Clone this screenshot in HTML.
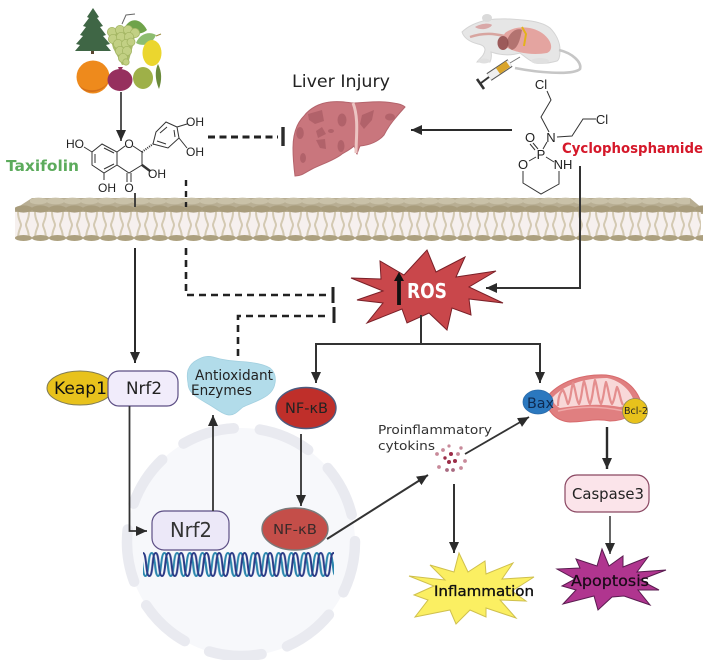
<!DOCTYPE html>
<html><head><meta charset="utf-8"><style>
html,body{margin:0;padding:0;background:#fff;width:708px;height:660px;overflow:hidden}
svg{display:block;filter:blur(.35px)}
text{font-family:"DejaVu Sans","Liberation Sans",sans-serif}
.m text,text.m{font-family:"Liberation Sans",sans-serif;font-size:12px;fill:#222;text-anchor:middle}
</style></head><body>
<svg width="708" height="660" viewBox="0 0 708 660" xmlns="http://www.w3.org/2000/svg">
<defs>
<marker id="a" markerUnits="userSpaceOnUse" markerWidth="14" markerHeight="12" refX="11" refY="6" orient="auto"><path d="M0,1 L11,6 L0,11 Z" fill="#2b2b2b"/></marker>
<pattern id="lip" patternUnits="userSpaceOnUse" x="15" y="212" width="17" height="27">
<rect width="17" height="27" fill="#f6f0ee"/>
<path d="M3,0 C3,8 6,10 6,13 C6,16 3,18 3,27 M14,0 C14,8 11,10 11,13 C11,16 14,18 14,27" fill="none" stroke="#d3c9b2" stroke-width="2"/>
</pattern>
<pattern id="headsB" patternUnits="userSpaceOnUse" x="15" y="234" width="17" height="8"><ellipse cx="8.5" cy="4" rx="8.6" ry="3" fill="#aca07f"/></pattern>
<pattern id="headsT" patternUnits="userSpaceOnUse" x="15" y="205" width="17" height="8"><ellipse cx="8.5" cy="4" rx="9" ry="3.6" fill="#a89c7c"/></pattern>
<pattern id="headsF" patternUnits="userSpaceOnUse" x="30" y="197" width="17" height="8"><ellipse cx="8.5" cy="4" rx="9" ry="3.4" fill="#c9c1a8"/></pattern>
<pattern id="dna" patternUnits="userSpaceOnUse" x="143" y="550" width="12.7" height="29">
<path d="M-4,3 C0,3 -1,26 2.4,26 C6,26 4.8,3 8.7,3 C12.6,3 11.4,26 15,26" fill="none" stroke="#2a86ad" stroke-width="2"/>
<path d="M0,3 C4,3 2.3,26 6.35,26 C10.4,26 8.7,3 12.7,3" fill="none" stroke="#2b3a86" stroke-width="2"/>
</pattern>
</defs>

<!-- nucleus -->
<circle cx="241" cy="542" r="114" fill="#f7f8fb"/>
<circle cx="241" cy="542" r="114" fill="none" stroke="#e9eaf0" stroke-width="10.5" stroke-linecap="round" stroke-dasharray="53 26.6" transform="rotate(-80.5 241 542)"/>

<!-- plant sources -->
<g>
<rect x="91" y="46" width="3" height="8" fill="#5a4630"/>
<path d="M93,8 L99,17 L97,18 L103,26 L100,27 L106,35 L103,36 L110,44 L106,45 L111,51 L75,51 L80,45 L76,44 L83,36 L80,35 L86,27 L83,26 L89,18 L87,17 Z" fill="#3f6645"/>
<path d="M122,24 L126,15 L135,14" fill="none" stroke="#666" stroke-width="1"/>
<path d="M125,27 C130,18 140,17 147,30 C140,36 130,34 125,27 Z" fill="#6fa34a"/>
<path d="M108,30 L136,28 L134,42 L128,64 L122,65 L113,48 Z" fill="#a9bb68"/>
<g fill="#c2d084" stroke="#a3b563" stroke-width=".8">
<circle cx="112" cy="32" r="4.6"/><circle cx="120" cy="30" r="4.6"/><circle cx="128" cy="30" r="4.6"/><circle cx="135" cy="33" r="4.6"/>
<circle cx="113" cy="39" r="4.6"/><circle cx="121" cy="37" r="4.6"/><circle cx="129" cy="37" r="4.6"/><circle cx="118" cy="44" r="4.6"/>
<circle cx="126" cy="44" r="4.6"/><circle cx="131" cy="42" r="4"/><circle cx="120" cy="51" r="4.6"/><circle cx="127" cy="51" r="4.6"/><circle cx="123" cy="58" r="4.6"/><circle cx="126" cy="62" r="3.2"/>
</g>
<path d="M136,43 C140,33 150,31 156,35 C152,45 143,47 136,43 Z" fill="#8dbd70"/>
<path d="M156,36 L161,34" stroke="#9a8a3a" stroke-width="1"/>
<ellipse cx="152" cy="53" rx="9.5" ry="13" fill="#ebd62e"/>
<circle cx="93" cy="77" r="16.5" fill="#ee8a1c"/>
<path d="M79,85 C85,92 101,93 108,82 C105,92 85,97 79,85Z" fill="#d4701a"/>
<path d="M158,64 C154,72 156,82 159,89 C162,80 162,72 158,64 Z" fill="#6a8a3a"/>
<ellipse cx="120" cy="80" rx="12.5" ry="11" fill="#96305e"/>
<path d="M118,67 L120,72 L123,67 Z" fill="#96305e"/>
<ellipse cx="143" cy="78" rx="10" ry="11" fill="#9eb048"/>
</g>
<line x1="121" y1="92" x2="121" y2="141" stroke="#2b2b2b" stroke-width="1.6" marker-end="url(#a)"/>

<!-- taxifolin -->
<g fill="none" stroke="#333" stroke-width="1">
<path d="M102,144 L117,152 L117,165 L104,173 L92,165 L92,152 Z M95,154 L95,163 M104,169 L114,164 M104,148 L114,153"/>
<path d="M117,152 L125,146 M133,146 L142,152 L142,165 L129,173 L117,165"/>
<path d="M127,173 L127,182 M131,173 L131,182 M104,173 L104,180 M92,152 L84,147"/>
<path d="M153,144 L156,132 L166,122 L177,127 L179,138 L168,148 Z M160,133 L167,127 M174,130 L175,137 M166,144 L157,141"/>
<path d="M177,127 L187,124 M179,138 L187,148"/>
<path d="M142,165 L150,171" stroke-width="2.4"/>
<path d="M142,152 L153,144" stroke-dasharray="1 1.2" stroke-width="2"/>
</g>
<text class="m" x="75" y="148">HO</text><text class="m" x="129" y="148">O</text>
<text class="m" x="195" y="126">OH</text><text class="m" x="195" y="156">OH</text>
<text class="m" x="157" y="178">OH</text><text class="m" x="107" y="192">OH</text><text class="m" x="129" y="192">O</text>
<text x="6" y="171" font-size="15.5" font-weight="700" fill="#5cab5c" textLength="73" lengthAdjust="spacingAndGlyphs">Taxifolin</text>

<!-- top dashed inhibition -->
<line x1="208" y1="137" x2="278" y2="137" stroke="#222" stroke-width="3" stroke-dasharray="7 4.5"/>
<line x1="283" y1="127" x2="283" y2="146" stroke="#2b2b2b" stroke-width="3.4"/>

<text x="292" y="87" font-size="16.5" fill="#222" textLength="98" lengthAdjust="spacingAndGlyphs">Liver Injury</text>

<!-- liver -->
<path d="M330,102 C320,103 310,108 304,116 C296,124 293,135 293,148 C293,158 294,168 295,176 C302,176 306,172 312,169 C322,164 335,160 342,154 C347,151 351,149 354,146 C356,150 356,153 357,154 C358,151 359,148 360,146 C370,145 378,142 384,135 C389,125 396,117 405,107 C402,104 395,103 385,102 C375,101 362,103 352,103 C345,102 338,101 330,102 Z" fill="#c9767d" stroke="#b4646c" stroke-width="1"/>
<path d="M353,103 C359,118 356,138 356,153" stroke="#ecc4c2" stroke-width="3" fill="none"/>
<g fill="#a85a63" opacity=".7">
<path d="M308,114 L322,110 L324,121 L315,124 L309,120 Z"/><path d="M316,131 L322,127 L326,134 L318,138 Z"/><path d="M316,140 L325,139 L326,149 L320,148 Z"/><ellipse cx="300" cy="133" rx="3.8" ry="6"/><ellipse cx="342" cy="120" rx="4.5" ry="6.5"/><ellipse cx="341" cy="146" rx="3.5" ry="6"/><ellipse cx="303" cy="158" rx="3" ry="5"/><path d="M362,115 L374,110 L372,120 L364,129 L360,124 Z"/><ellipse cx="390" cy="117" rx="5" ry="3.5"/><ellipse cx="331" cy="131" rx="3" ry="2"/>
</g>
<line x1="512" y1="130" x2="411" y2="130" stroke="#2b2b2b" stroke-width="2" marker-end="url(#a)"/>

<!-- mouse -->
<g>
<path d="M462,32 C468,26 478,22 487,20 C500,18 512,19 523,20 C535,21 545,24 550,28 C556,34 560,42 560,50 C560,56 559,60 557,61 C550,63 542,64 535,63 C528,60 524,56 520,53 C510,56 500,55 491,52 C492,57 491,60 490,62 L477,62 C480,58 484,56 485,50 C485,47 483,45 478,44 C470,42 464,38 462,32 Z" fill="#e6e6e6" stroke="#d4d4d4"/>
<ellipse cx="487" cy="18" rx="5" ry="4" fill="#dadada"/>
<path d="M559,50 C572,53 582,62 580,69 C572,76 535,72 515,68" fill="none" stroke="#c6c6c6" stroke-width="2.6"/>
<path d="M475,27 C482,23 490,23 492,25 C490,29 480,31 475,27 Z" fill="#d9a8a8"/>
<path d="M470,37 C485,32 495,34 505,36" fill="none" stroke="#d8a5a0" stroke-width="2.5"/>
<path d="M505,33 C514,26 530,25 542,33 C552,40 554,50 547,53 C530,56 508,52 500,42 Z" fill="#e4a4a0"/>
<ellipse cx="503" cy="43" rx="5.5" ry="7" fill="#9c5a5a"/>
<path d="M508,38 C512,30 518,28 522,30 C520,40 518,48 512,50 C508,48 506,44 508,38 Z" fill="#8a4a48" opacity=".55"/>
<path d="M522,27 L526,34 L524,46" stroke="#e3b21a" stroke-width="2" fill="none"/>
<ellipse cx="484" cy="61" rx="6" ry="2.5" fill="#e0e0e0"/><ellipse cx="540" cy="61" rx="9" ry="3" fill="#e0e0e0"/>
<line x1="520" y1="57" x2="510" y2="63" stroke="#777" stroke-width="1"/>
<line x1="510" y1="63" x2="489" y2="77" stroke="#555" stroke-width="9"/>
<line x1="510" y1="63" x2="489" y2="77" stroke="#efefef" stroke-width="7"/>
<line x1="508" y1="64" x2="498" y2="71" stroke="#d9a42a" stroke-width="7"/>
<line x1="489" y1="77" x2="481" y2="83" stroke="#333" stroke-width="2"/>
<line x1="477" y1="79" x2="484" y2="89" stroke="#333" stroke-width="2.6"/>
</g>

<!-- cyclophosphamide -->
<g fill="none" stroke="#333" stroke-width="1">
<path d="M547,91 L551,100 L541,117 L549,132"/>
<path d="M557,137 L572,136 L583,119 L596,119"/>
<path d="M547,142 L543,149 M538,149 L533,143 M535,150 L530,144"/>
<path d="M536,157 L529,161 M546,157 L554,162"/>
<path d="M523,171 L523,183 L541,194 L559,184 L559,171"/>
</g>
<g class="m"><text x="541" y="89" style="font-size:13px">Cl</text>
<text x="602" y="124" style="font-size:13px">Cl</text>
<text x="551" y="142" style="font-size:13px">N</text>
<text x="530" y="142" style="font-size:13px">O</text>
<text x="541" y="159" style="font-size:13px">P</text>
<text x="523" y="169" style="font-size:13px">O</text>
<text x="563" y="169" style="font-size:13px">NH</text></g>
<text x="562" y="153" font-size="14.5" font-weight="700" fill="#d5182a" textLength="141" lengthAdjust="spacingAndGlyphs">Cyclophosphamide</text>

<!-- membrane -->
<path d="M15,209 L32,198 L690,198 L703,209 L703,214 L15,214 Z" fill="#b8ae93"/>
<rect x="30" y="197" width="660" height="8" fill="url(#headsF)"/>
<rect x="15" y="212" width="686" height="27" fill="url(#lip)"/>
<rect x="15" y="205" width="688" height="8" fill="url(#headsT)"/>
<rect x="15" y="234" width="688" height="8" fill="url(#headsB)"/>
<line x1="135" y1="193" x2="135" y2="207" stroke="#333" stroke-width="1.8"/>
<line x1="186" y1="180" x2="186" y2="207" stroke="#222" stroke-width="2.4" stroke-dasharray="6 5"/>

<!-- Taxifolin -> Nrf2 -->
<line x1="135" y1="248" x2="135" y2="363" stroke="#2b2b2b" stroke-width="2" marker-end="url(#a)"/>

<!-- dashed to ROS -->
<path d="M186,248 V295 H328" fill="none" stroke="#222" stroke-width="2.6" stroke-dasharray="7 5"/>
<line x1="333" y1="287" x2="333" y2="303" stroke="#222" stroke-width="3"/>
<path d="M238,356 V316 H330" fill="none" stroke="#222" stroke-width="2.6" stroke-dasharray="7 5"/>
<line x1="334" y1="307" x2="334" y2="323" stroke="#222" stroke-width="3"/>

<!-- Cyclophosphamide -> ROS -->
<path d="M580,166 V288 H486" fill="none" stroke="#333" stroke-width="2" marker-end="url(#a)"/>

<!-- ROS -->
<polygon points="427,250 436,272 465,257 456,277 496,271 469,287 503,303 469,299 471,315 452,308 447,330 429,313 407,323 402,309 367,323 383,303 357,300 383,291 351,278 381,279 380,261 404,275" fill="#c9474b" stroke="#7a2028" stroke-width="1"/>
<line x1="399" y1="305" x2="399" y2="278" stroke="#111" stroke-width="3.8"/>
<polygon points="399,272 394,281 404,281" fill="#111"/>
<text x="407" y="298" font-size="20" font-weight="700" fill="#fff" textLength="40" lengthAdjust="spacingAndGlyphs">ROS</text>

<!-- ROS branches -->
<path d="M421,315 V344" fill="none" stroke="#333" stroke-width="2"/>
<path d="M421,344 H316 V383" fill="none" stroke="#333" stroke-width="2" marker-end="url(#a)"/>
<path d="M421,344 H540 V383" fill="none" stroke="#333" stroke-width="2" marker-end="url(#a)"/>

<!-- Keap1/Nrf2 -->
<ellipse cx="80" cy="388" rx="33" ry="17" fill="#e8c21c" stroke="#7f7a55" stroke-width="1"/>
<rect x="108" y="371" width="70" height="35" rx="11" fill="#f1ecfb" stroke="#5d4f85" stroke-width="1.2"/>
<text x="54" y="394" font-size="17" fill="#111" textLength="53" lengthAdjust="spacingAndGlyphs">Keap1</text>
<text x="126" y="394" font-size="17" fill="#222" textLength="36" lengthAdjust="spacingAndGlyphs">Nrf2</text>

<!-- Nrf2 -> nucleus -->
<path d="M129.5,406 V531 H147" fill="none" stroke="#333" stroke-width="1.8" marker-end="url(#a)"/>
<rect x="152" y="511" width="77" height="39" rx="12" fill="#ece8f8" stroke="#5d4f85" stroke-width="1.2"/>
<text x="170" y="537" font-size="20" fill="#333" textLength="42" lengthAdjust="spacingAndGlyphs">Nrf2</text>
<line x1="213" y1="511" x2="213" y2="415" stroke="#333" stroke-width="1.8" marker-end="url(#a)"/>

<!-- antioxidant -->
<path d="M197,360 C204,356 208,356 213,357 C225,361 236,361 247,362 C257,363 265,365 270,368 C275,372 276,378 275,383 C274,390 269,395 263,398 C256,402 249,404 243,407 C238,411 235,415 230,415 C224,415 218,410 213,407 C207,403 202,401 197,397 C191,393 188,389 188,383 C187,378 187,374 188,370 C190,365 193,362 197,360 Z" fill="#b2dcea" stroke="#a3d0e0" stroke-width=".8"/>
<text x="195" y="380" font-size="14" fill="#222" textLength="78" lengthAdjust="spacingAndGlyphs">Antioxidant</text>
<text x="191" y="395" font-size="14" fill="#222" textLength="61" lengthAdjust="spacingAndGlyphs">Enzymes</text>

<!-- NF-kB -->
<ellipse cx="306" cy="408" rx="30" ry="20.5" fill="#bf2f2a" stroke="#4e5a7e" stroke-width="1.4"/>
<text x="285" y="413" font-size="14" fill="#222" textLength="43" lengthAdjust="spacingAndGlyphs">NF-κB</text>
<line x1="301" y1="434" x2="301" y2="506" stroke="#333" stroke-width="1.8" marker-end="url(#a)"/>
<ellipse cx="295" cy="529" rx="33" ry="21" fill="#c44e49" stroke="#7a7a7a" stroke-width="1.4"/>
<text x="273" y="534" font-size="13.5" fill="#3a2a2a" textLength="44" lengthAdjust="spacingAndGlyphs">NF-κB</text>

<!-- DNA -->
<rect x="143" y="550" width="191" height="29" fill="url(#dna)"/>

<!-- cytokines -->
<line x1="327" y1="539" x2="428" y2="475" stroke="#333" stroke-width="2" marker-end="url(#a)"/>
<line x1="465" y1="454" x2="529" y2="417" stroke="#333" stroke-width="1.8" marker-end="url(#a)"/>
<text x="378" y="434" font-size="12.7" fill="#333" textLength="114" lengthAdjust="spacingAndGlyphs">Proinflammatory</text>
<text x="378" y="450" font-size="12.7" fill="#333" textLength="57" lengthAdjust="spacingAndGlyphs">cytokins</text>
<g fill="#c88a9a">
<circle cx="437" cy="454" r="1.9"/><circle cx="443" cy="450" r="1.9"/><circle cx="449" cy="446" r="1.6"/><circle cx="458" cy="454" r="1.9"/><circle cx="461" cy="448" r="1.7"/><circle cx="465" cy="461" r="1.9"/><circle cx="439" cy="467" r="1.9"/><circle cx="461" cy="468" r="1.9"/>
</g>
<g fill="#9c2d48"><circle cx="451" cy="454" r="2"/><circle cx="449" cy="462" r="2"/><circle cx="455" cy="461" r="2"/><circle cx="445" cy="458" r="1.7"/></g>
<g fill="#a86a80"><circle cx="447" cy="470" r="1.9"/><circle cx="453" cy="470" r="1.9"/></g>
<line x1="454" y1="484" x2="454" y2="553" stroke="#333" stroke-width="2" marker-end="url(#a)"/>

<!-- inflammation -->
<polygon points="459,553 468,572 485,561 486,574 513,563 502,579 534,577 512,591 526,601 500,600 516,618 486,608 486,617 470,610 456,624 450,610 415,617 428,600 414,595 434,586 409,576 445,580 430,565 454,572" fill="#fbef62" stroke="#cfc04e" stroke-width="1"/>
<text x="434" y="596" font-size="14.5" fill="#111" stroke="#111" stroke-width=".35" textLength="100" lengthAdjust="spacingAndGlyphs">Inflammation</text>

<!-- mitochondrion -->
<path d="M546,398 C560,380 585,374 606,375 C625,377 636,388 641,402 C636,414 625,421 610,421 C595,418 585,422 570,422 C555,421 546,410 546,398 Z" fill="#e07f80" stroke="#d76a6c" stroke-width="1"/>
<path d="M552,398 C565,384 585,378 607,378 C622,381 632,392 635,404 L620,407 C600,403 580,405 560,408 C556,406 553,403 552,398 Z" fill="#f8d8d8"/>
<path d="M558,406 C558,398 560,392 563,390 C566,395 566,400 568,404 C571,400 571,388 573,383 C576,390 576,400 579,404 C582,398 582,386 584,381 C587,388 587,400 590,404 C593,398 593,386 595,380 C598,388 598,400 601,404 C604,398 604,388 606,382 C609,390 609,400 612,404 C615,400 615,392 617,387 C620,392 620,400 623,405" fill="none" stroke="#e48e8e" stroke-width="2.2" stroke-linejoin="round"/>
<path d="M558,411 C580,406 600,406 624,411" fill="none" stroke="#f0aaaa" stroke-width="1.5"/>
<ellipse cx="538" cy="402" rx="15" ry="12" fill="#2b78bf" stroke="#2a6aa8" stroke-width=".8"/>
<text x="527" y="408" font-size="14" fill="#0f2a50" textLength="27" lengthAdjust="spacingAndGlyphs">Bax</text>
<circle cx="635" cy="411" r="12.5" fill="#e8c21c" stroke="#8a8a5a" stroke-width=".8"/>
<text x="624" y="414" font-size="9.5" fill="#222" textLength="24" lengthAdjust="spacingAndGlyphs">Bcl-2</text>

<!-- caspase -->
<line x1="607" y1="427" x2="607" y2="469" stroke="#2b2b2b" stroke-width="2.4" marker-end="url(#a)"/>
<rect x="565" y="475" width="84" height="37" rx="12" fill="#fbe4ea" stroke="#8a4762" stroke-width="1.2"/>
<text x="572" y="499" font-size="15.5" fill="#222" textLength="72" lengthAdjust="spacingAndGlyphs">Caspase3</text>
<line x1="610" y1="516" x2="610" y2="554" stroke="#333" stroke-width="1.5" marker-end="url(#a)"/>

<!-- apoptosis -->
<polygon points="602,549 609,566 623,556 623,567 648,557 637,572 666,570 640,580 659,590 638,590 650,605 624,596 612,597 598,610 594,596 563,604 576,590 562,586 575,579 557,569 580,568 576,559 597,566" fill="#b0358f" stroke="#5a1c50" stroke-width="1"/>
<text x="571" y="586" font-size="15.5" fill="#1a0a18" stroke="#1a0a18" stroke-width=".25" textLength="78" lengthAdjust="spacingAndGlyphs">Apoptosis</text>
</svg>
</body></html>
